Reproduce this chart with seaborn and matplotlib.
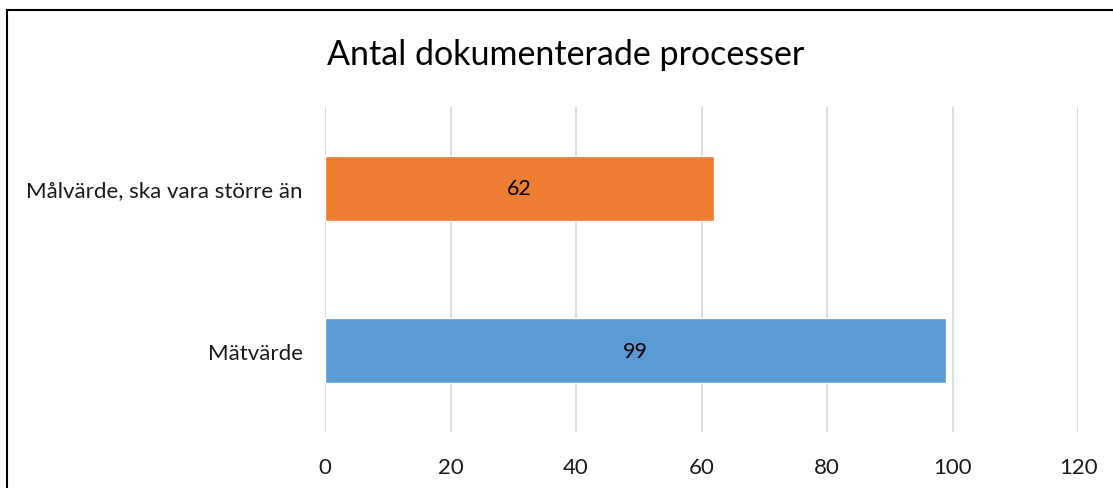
import pandas as pd
import matplotlib.pyplot as plt
import seaborn as sns
from matplotlib.lines import Line2D

# Chart data
categories = ['Målvärde, ska vara större än', 'Mätvärde']
values = [62, 99]
colors = ['#ED7D31', '#5B9BD5']
x_ticks = [0, 20, 40, 60, 80, 100, 120]
title = 'Antal dokumenterade processer'

data = pd.DataFrame({'Kategori': categories, 'Värde': values})

sns.set_theme(style='white')
plt.rcParams['font.family'] = ['Lato', 'DejaVu Sans']

fig = plt.figure(figsize=(11.13, 4.89), dpi=100)
ax = fig.add_axes([0.292, 0.1145, 0.6766, 0.6645])

sns.barplot(data=data, y='Kategori', x='Värde', hue='Kategori', palette=colors,
            width=0.4, legend=False, ax=ax, saturation=1)

# Value labels in the middle of the bars
for container in ax.containers:
    ax.bar_label(container, label_type='center', fontsize=15.5, color='black')

ax.set_xlim(0, 120)
ax.set_ylim(1.5, -0.5)
ax.set_xticks(x_ticks)
ax.set_xticklabels([str(t) for t in x_ticks], fontsize=16, color='#1a1a1a')
ax.tick_params(axis='y', labelsize=16, labelcolor='#1a1a1a', length=0, pad=16)
ax.tick_params(axis='x', length=0, pad=18)
ax.set_xlabel('')
ax.set_ylabel('')
ax.xaxis.grid(True, color='#D9D9D9', linewidth=1.3)
ax.set_axisbelow(True)
for s in ax.spines.values():
    s.set_visible(False)

fig.text(0.508, 0.888, title, ha='center', va='center', fontsize=24.5, color='#000000')

# Outer frame (top and left visible)
fig.add_artist(Line2D([7 / 1113, 7 / 1113], [0, 1 - 11 / 489], transform=fig.transFigure,
                      color='black', linewidth=1.5))
fig.add_artist(Line2D([7 / 1113, 1], [1 - 11 / 489, 1 - 11 / 489], transform=fig.transFigure,
                      color='black', linewidth=1.5))

fig.savefig('out.png', dpi=100, facecolor='white')
